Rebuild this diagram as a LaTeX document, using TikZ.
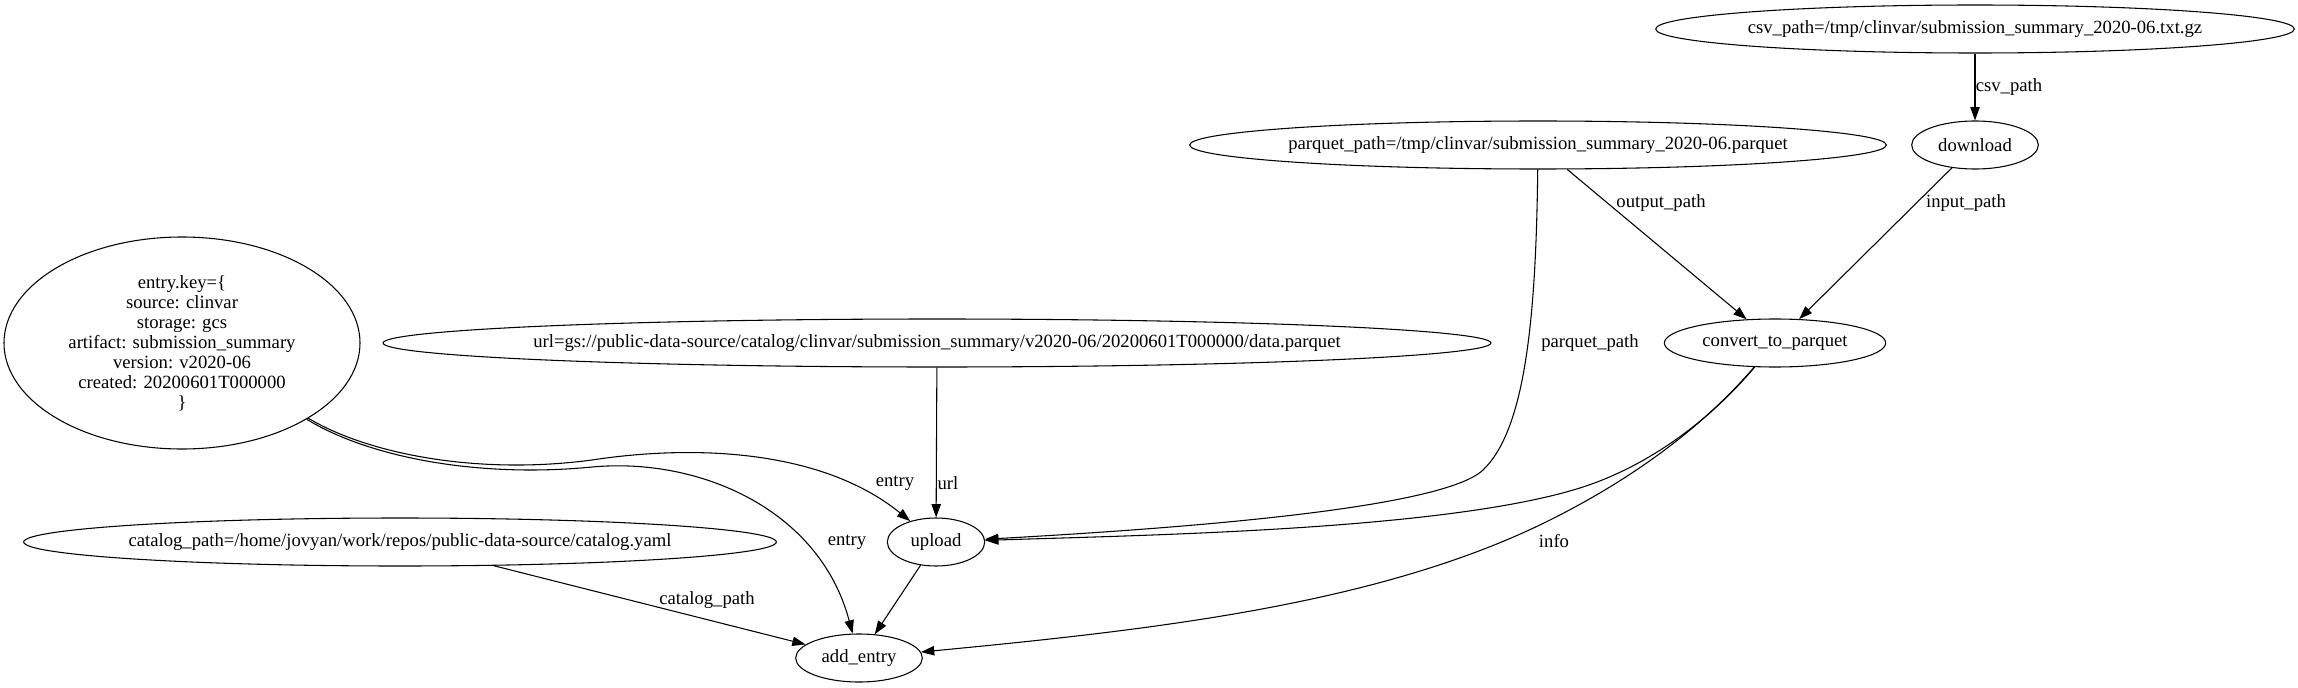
\documentclass[tikz,border=0pt]{standalone}
\usepackage{fontspec}
\setmainfont{Liberation Serif}
\usetikzlibrary{shapes.geometric}
\usetikzlibrary{arrows.meta}

\begin{document}
\begin{tikzpicture}
		[x=0.75pt,y=-0.75pt,line width=0.8pt,>={Triangle[length=10pt,width=7pt]},
		every node/.style={ellipse,draw,inner sep=0pt,minimum height=36pt,font=\fontsize{14}{15}\selectfont}]
		\useasboundingbox (0,0) rectangle (2298,688);
		\node [minimum width=477pt, inner xsep=-1pt] (csv) at (1975,29) {csv\_path=/tmp/clinvar/submission\_summary\_2020-06.txt.gz};
		\node [minimum width=95pt] (download) at (1975,145) {download};
		\node [minimum width=522pt, inner xsep=-2.5pt] (parquet) at (1538,145) {parquet\_path=/tmp/clinvar/submission\_summary\_2020-06.parquet};
		\node [minimum width=166pt] (convert) at (1775,343) {convert\_to\_parquet};
		\node [minimum width=267pt, minimum height=159pt, align=center] (entry) at (182,343) {entry.key=\{\\source: clinvar\\storage: gcs\\artifact: submission\_summary\\version: v2020-06\\created: 20200601T000000\\\}};
		\node [minimum width=830pt, inner xsep=-9pt] (url) at (937,343) {url=gs://public-data-source/catalog/clinvar/submission\_summary/v2020-06/20200601T000000/data.parquet};
		\node [minimum width=562pt, inner xsep=-4pt] (catalog) at (400,542) {catalog\_path=/home/jovyan/work/repos/public-data-source/catalog.yaml};
		\node [minimum width=73pt] (upload) at (936,542) {upload};
		\node [minimum width=95pt] (addentry) at (859,658) {add\_entry};
		\draw [->] (csv) -- (download);
		\draw [->] (download) -- (convert);
		\draw [->] (parquet) -- (convert);
		\draw [->] (parquet) .. controls (1536,320) and (1525,430) .. (1483,470) .. controls (1440,511) and (1150,530) .. (upload);
		\draw [->] (convert) .. controls (1710,420) and (1650,465) .. (1583,487) .. controls (1450,530) and (1150,535) .. (upload);
		\draw [->] (convert) .. controls (1700,430) and (1630,480) .. (1550,520) .. controls (1380,605) and (1150,630) .. (addentry);
		\draw [->] (url) -- (upload);
		\draw [->] (entry) .. controls (370,455) and (480,475) .. (592,460) .. controls (690,445) and (820,448) .. (upload);
		\draw [->] (entry) .. controls (370,458) and (480,478) .. (592,467) .. controls (700,457) and (820,510) .. (addentry);
		\draw [->] (catalog) -- (addentry);
		\draw [->] (upload) -- (addentry);
		\node [draw=none] (lcsv) at (2009,87) {csv\_path};
		\node [draw=none] (linput) at (1966,203) {input\_path};
		\node [draw=none] (loutput) at (1661,203) {output\_path};
		\node [draw=none] (lparquet) at (1590,343) {parquet\_path};
		\node [draw=none] (linfo) at (1554,541) {info};
		\node [draw=none] (lurl) at (948,483) {url};
		\node [draw=none] (lentryup) at (895,483) {entry};
		\node [draw=none] (lentryadd) at (847,542) {entry};
		\node [draw=none] (lcatalog) at (707,600) {catalog\_path};
	\end{tikzpicture}
\end{document}
